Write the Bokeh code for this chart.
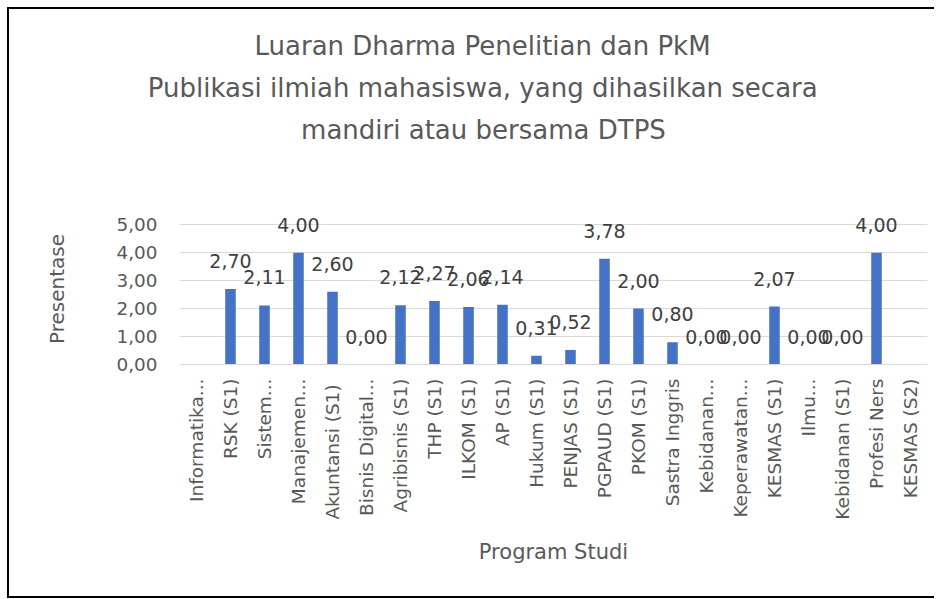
import math
from bokeh.plotting import figure
from bokeh.models import FactorRange, Range1d, FixedTicker, Title, ColumnDataSource
from bokeh.core.properties import value
from bokeh.embed import file_html
from bokeh.resources import INLINE

categories = ["Informatika...", "RSK (S1)", "Sistem...", "Manajemen...", "Akuntansi  (S1)",
              "Bisnis Digital...", "Agribisnis (S1)", "THP (S1)", "ILKOM (S1)", "AP (S1)",
              "Hukum (S1)", "PENJAS (S1)", "PGPAUD (S1)", "PKOM (S1)", "Sastra Inggris",
              "Kebidanan...", "Keperawatan...", "KESMAS (S1)", "Ilmu...", "Kebidanan (S1)",
              "Profesi Ners", "KESMAS (S2)"]
values = [None, 2.70, 2.11, 4.00, 2.60, 0.00, 2.12, 2.27, 2.06, 2.14,
          0.31, 0.52, 3.78, 2.00, 0.80, 0.00, 0.00, 2.07, 0.00, 0.00,
          4.00, None]
y_ticks = [0, 1, 2, 3, 4, 5]
title_lines = ["Luaran Dharma Penelitian dan PkM",
               "Publikasi ilmiah mahasiswa, yang dihasilkan secara",
               "mandiri atau bersama DTPS"]
y_title = "Presentase"
x_title = "Program Studi"

FONT = "DejaVu Sans"
GRAY = "#595959"
DARK = "#404040"

p = figure(width=944, height=599, x_range=FactorRange(factors=categories, range_padding=0),
           y_range=Range1d(0, 5.4), output_backend="svg", toolbar_location=None,
           min_border_left=179, min_border_right=17, min_border_top=213, min_border_bottom=235)
p.outline_line_color = None
p.background_fill_color = "white"
p.border_fill_color = None
p.styles = {"box-shadow": "inset -10px 0 0 0 white, inset 7px 7px 0 0 white, inset 0 -1px 0 0 white, "
                          "inset 9px 9px 0 0 black, inset 0 -3px 0 0 black",
            "background-color": "white"}

bar_cats = [c for c, v in zip(categories, values) if v is not None]
bar_vals = [v for v in values if v is not None]
src = ColumnDataSource(dict(x=bar_cats, top=bar_vals,
                            lab=[("%.2f" % v).replace(".", ",") for v in bar_vals]))
p.vbar(x="x", top="top", width=0.31, source=src, color="#4472C4", line_color=None)
p.text(x="x", y="top", text="lab", source=src, text_align="center", text_baseline="alphabetic",
       y_offset=-28, text_font=value(FONT), text_font_size="19px", text_color=DARK)

# axes
p.yaxis.ticker = FixedTicker(ticks=y_ticks)
p.yaxis.major_label_overrides = {t: ("%.2f" % t).replace(".", ",") for t in y_ticks}
p.yaxis.axis_line_color = None
p.yaxis.major_tick_line_color = None
p.yaxis.minor_tick_line_color = None
p.yaxis.major_label_standoff = 16
p.yaxis.major_label_text_font = FONT
p.yaxis.major_label_text_font_size = "18.4px"
p.yaxis.major_label_text_color = GRAY
p.yaxis.axis_label = y_title
p.yaxis.axis_label_standoff = 45
p.yaxis.axis_label_text_font = FONT
p.yaxis.axis_label_text_font_size = "20px"
p.yaxis.axis_label_text_font_style = "normal"
p.yaxis.axis_label_text_color = GRAY

p.xaxis.axis_line_color = "#D9D9D9"
p.xaxis.major_tick_line_color = None
p.xaxis.minor_tick_line_color = None
p.xaxis.major_label_orientation = math.pi / 2
p.xaxis.major_label_standoff = 8
p.xaxis.major_label_text_font = FONT
p.xaxis.major_label_text_font_size = "18.5px"
p.xaxis.major_label_text_color = GRAY
p.xaxis.axis_label = x_title
p.xaxis.axis_label_standoff = 17
p.xaxis.axis_label_text_font = FONT
p.xaxis.axis_label_text_font_size = "21px"
p.xaxis.axis_label_text_font_style = "normal"
p.xaxis.axis_label_text_color = GRAY

p.xgrid.grid_line_color = None
p.ygrid.ticker = FixedTicker(ticks=y_ticks)
p.ygrid.grid_line_color = "#D9D9D9"
p.ygrid.grid_line_width = 1

# spacer between the title block and the plot area
p.add_layout(Title(text=" ", text_font=FONT, text_font_size="20px", standoff=38), "above")
# titles (closest to the frame first)
widths = [458, 671.5, 364.8]
for txt, w in reversed(list(zip(title_lines, widths))):
    p.add_layout(Title(text=txt, align="left", offset=483 - w / 2 - 179,
                       text_font=FONT, text_font_size="26px", text_font_style="normal",
                       text_color=GRAY, standoff=10), "above")

open("out.html", "w").write(file_html(p, INLINE))
